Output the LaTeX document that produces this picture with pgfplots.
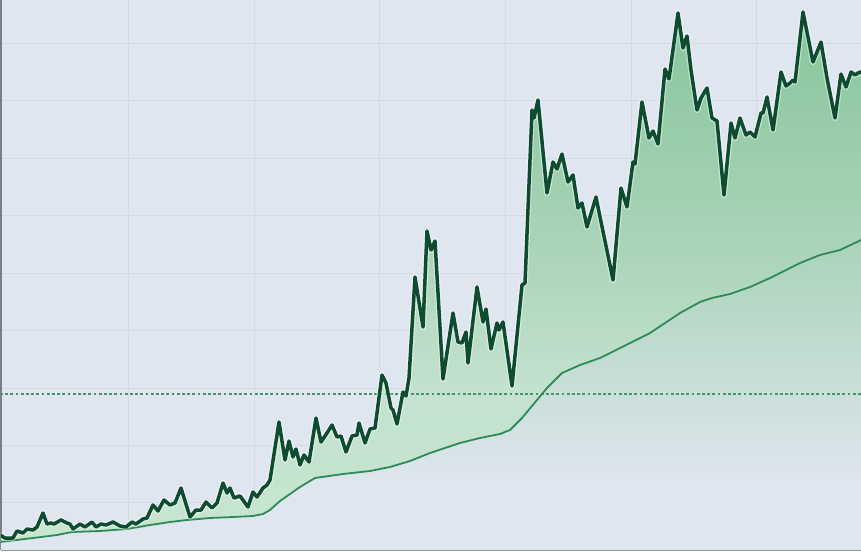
\documentclass[border=0pt]{standalone}
\usepackage{pgfplots}
\pgfplotsset{compat=1.18}
\usepackage{pgfplotstable}
\usepgfplotslibrary{fillbetween}
\definecolor{bg}{HTML}{DFE6EF}
\definecolor{gridc}{HTML}{D3DAE4}
\definecolor{dk}{HTML}{0E4B31}
\definecolor{macol}{HTML}{2E8B57}
\definecolor{fillg}{HTML}{86C69B}
\definecolor{fillm}{HTML}{A6D2B5}
\definecolor{filll}{HTML}{C6E6CE}
\definecolor{fillk}{HTML}{C4E2CF}
\definecolor{dashcol}{HTML}{3A9A62}
\pgfdeclareverticalshading{areashade}{100bp}{color(0bp)=(bg); color(25bp)=(bg); color(31bp)=(bg); color(55bp)=(fillm); color(75bp)=(fillg); color(100bp)=(fillg)}
\pgfdeclareverticalshading{betweenshade}{100bp}{color(0bp)=(filll); color(25bp)=(filll); color(39bp)=(fillk); color(55bp)=(fillm); color(75bp)=(fillg); color(100bp)=(fillg)}

\pgfplotstableread{
x py
0 535
5 538
13 538
17 531
23 533
27 529
33 530
37 527
43 513
47 524
51 523
54 524
61 520
67 523
70 524
73 529
80 524
85 527
92 522
96 527
101 524
106 525
113 522
120 526
126 527
132 522
136 524
143 519
147 518
153 505
158 511
164 500
170 505
175 503
181 488
190 517
196 510
201 510
206 502
212 508
217 503
223 483
227 493
230 488
234 498
240 496
248 507
253 492
257 497
263 488
267 485
270 480
279 422
285 460
289 441
293 457
296 449
300 465
304 455
309 462
316 418
321 442
327 433
332 425
337 437
341 436
346 452
352 436
357 435
359 423
365 443
370 429
375 428
382 375
386 383
391 408
393 410
397 424
403 392
406 396
409 378
415 277
423 327
427 231
431 250
435 241
443 379
453 313
458 342
462 343
466 332
468 363
477 287
483 322
486 309
491 349
497 323
499 330
503 322
512 386
522 285
525 283
532 110
534 118
538 100
547 193
553 162
557 169
562 154
568 182
573 175
578 208
582 203
587 227
596 197
599 212
613 280
621 188
627 207
633 162
635 164
642 102
649 138
653 131
658 144
665 69
669 79
678 13
683 48
687 36
691 70
697 110
701 98
707 88
712 118
717 121
724 195
731 123
735 138
740 118
746 135
750 132
755 137
761 113
763 113
767 97
773 130
781 72
786 86
790 83
793 80
795 82
803 12
813 62
821 42
827 78
835 118
841 74
846 87
851 72
855 75
858 73
861 72
}\upper

\pgfplotstableread{
x py
0 542
33 538
57 535
72 532
100 531
127 529
150 525
170 522
187 520
210 518
233 517
253 516
263 514
270 510
280 501
290 494
300 487
315 478
343 474
370 471
390 467
410 461
430 453
460 443
480 438
500 434
510 430
522 418
537 400
547 388
562 373
580 365
600 358
630 343
650 333
680 313
700 302
712 298
730 294
750 287
770 278
800 263
820 255
840 250
861 240
}\mavg

\begin{document}
\begin{tikzpicture}
\begin{axis}[
  x=0.5pt, y=0.5pt,
  xmin=1, xmax=861, ymin=0, ymax=550,
  axis lines*=left,
  axis line style={-},
  x axis line style={draw=black!38!bg, line width=1pt},
  y axis line style={draw=black!45!bg, line width=1pt},
  xtick={128.3,254,379.7,505.4,631,756.8},
  ytick={47.2,104.6,162,219.4,276.8,334.2,391.6,449,506.4},
  xticklabels={}, yticklabels={},
  major tick length=0pt,
  grid=major,
  grid style={gridc, line width=0.5pt},
  axis background/.style={fill=bg},
  fill between/on layer=main,
]
\addplot[draw=none, shading=areashade] table[x=x, y expr=550-\thisrow{py}] {\upper} \closedcycle;
\addplot[draw=none, name path=up] table[x=x, y expr=550-\thisrow{py}] {\upper};
\addplot[draw=none, name path=ma] table[x=x, y expr=550-\thisrow{py}] {\mavg};
\addplot[draw=none, shading=betweenshade] fill between[of=up and ma];
\addplot[dashcol, line width=0.6pt, dash pattern=on 1.4pt off 1.2pt] coordinates {(0,156) (861,156)};
\addplot[macol, line width=0.9pt, line join=round] table[x=x, y expr=550-\thisrow{py}] {\mavg};
\addplot[white, opacity=0.45, line width=3pt, line join=round] table[x=x, y expr=550-\thisrow{py}] {\upper};
\addplot[dk, line width=1.75pt, line join=round, line cap=round] table[x=x, y expr=550-\thisrow{py}] {\upper};
\coordinate (ll) at (axis cs:0,-2);
\coordinate (ur) at (axis cs:861,550);
\end{axis}
\pgfresetboundingbox
\path (ll) rectangle (ur);
\end{tikzpicture}
\end{document}
